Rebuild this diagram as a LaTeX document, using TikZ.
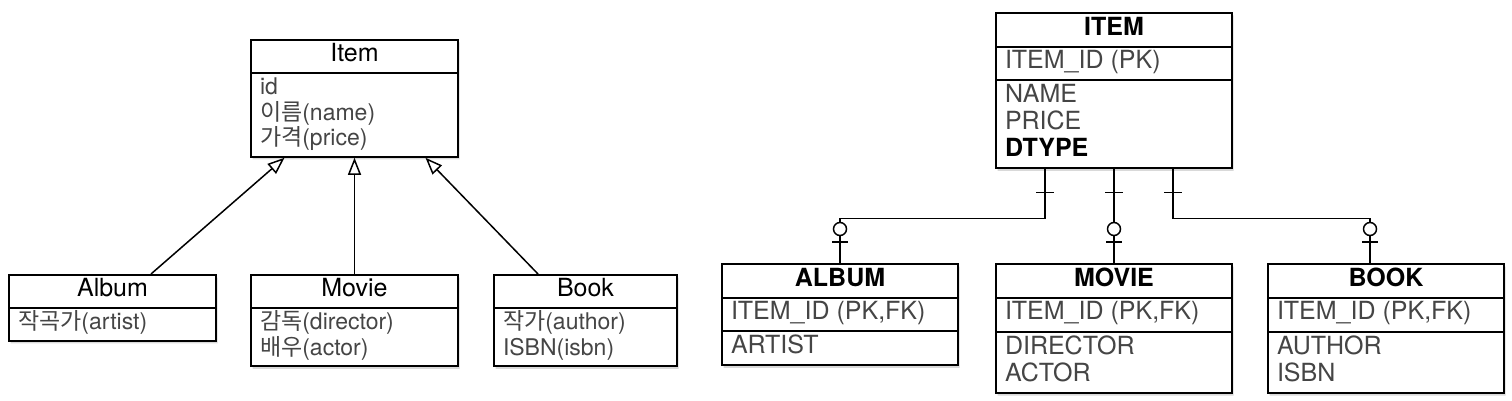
\documentclass[tikz,border=0pt]{standalone}
\usepackage{fontspec}
\setmainfont{TeX Gyre Heros}
\newfontfamily\kr{Noto Sans CJK KR}
\usepackage{tikz}
\usetikzlibrary{shapes}
\usetikzlibrary{arrows.meta}
\usetikzlibrary{shadows}
\usetikzlibrary{decorations.markings}
\definecolor{attrgray}{HTML}{454545}
\newcommand{\ko}[1]{\smash{\kr #1}}

\tikzset{
    box/.style={rectangle split, draw, line width=2pt, fill=white, anchor=north west, inner xsep=9pt, align=left, text=attrgray,
        drop shadow={shadow xshift=1.5pt, shadow yshift=-2.5pt, opacity=0.3}},
    cls/.style={box, rectangle split parts=2, rectangle split part align={center,left}, inner ysep=2.6pt, font=\fontsize{23}{25.5}\selectfont},
    tbl/.style={box, rectangle split parts=3, rectangle split part align={center,left,left}, inner ysep=2.8pt, font=\fontsize{25}{26}\selectfont},
    inherit/.style={line width=1.5pt, -{Triangle[open,length=17pt,width=13pt]}},
    erlink/.style={line width=1.5pt, postaction={decorate, decoration={markings,
        mark=at position 23pt with {\draw[line width=1.5pt] (0,-9pt) -- (0,9pt);},
        mark=at position -21pt with {\draw[line width=1.5pt] (0,-8pt) -- (0,8pt);},
        mark=at position -34pt with {\draw[line width=1.5pt,fill=white] (0,0) circle (6.5pt);}}}}
}

\begin{document}
\begin{tikzpicture}[x=1pt,y=1pt]
        \useasboundingbox (0,0) rectangle (1512,-401);

        \node[cls, minimum width=207pt] (itemC) at (250,-39)
            {\fontsize{25}{25.5}\selectfont\strut\textcolor{black}{Item}
             \nodepart{two}\strut id\\\strut\ko{이름}(name)\\\strut\ko{가격}(price)};
        \node[cls, minimum width=207pt] (albumC) at (8,-274)
            {\fontsize{25}{25.5}\selectfont\strut\textcolor{black}{Album}
             \nodepart{two}\strut\ko{작곡가}(artist)};
        \node[cls, minimum width=207pt] (movieC) at (250,-274)
            {\fontsize{25}{25.5}\selectfont\strut\textcolor{black}{Movie}
             \nodepart{two}\strut\ko{감독}(director)\\\strut\ko{배우}(actor)};
        \node[cls, minimum width=183pt] (bookC) at (493,-274)
            {\fontsize{25}{25.5}\selectfont\strut\textcolor{black}{Book}
             \nodepart{two}\strut\ko{작가}(author)\\\strut ISBN(isbn)};

        \draw[inherit] ([xshift=38.5pt]albumC.north) -- ([xshift=-70pt]itemC.south);
        \draw[inherit] (movieC.north) -- (itemC.south);
        \draw[inherit] ([xshift=-47.5pt]bookC.north) -- ([xshift=71pt]itemC.south);

        \node[tbl, minimum width=236pt] (itemT) at (995,-12)
            {\strut\textcolor{black}{\bfseries ITEM}
             \nodepart{two}\strut ITEM\_ID (PK)
             \nodepart{three}\strut NAME\\\strut PRICE\\\strut\textcolor{black}{\bfseries DTYPE}};
        \node[tbl, minimum width=236pt] (albumT) at (721,-263)
            {\strut\textcolor{black}{\bfseries ALBUM}
             \nodepart{two}\strut ITEM\_ID (PK,FK)
             \nodepart{three}\strut ARTIST};
        \node[tbl, minimum width=236pt] (movieT) at (995,-263)
            {\strut\textcolor{black}{\bfseries MOVIE}
             \nodepart{two}\strut ITEM\_ID (PK,FK)
             \nodepart{three}\strut DIRECTOR\\\strut ACTOR};
        \node[tbl, minimum width=236pt] (bookT) at (1267,-263)
            {\strut\textcolor{black}{\bfseries BOOK}
             \nodepart{two}\strut ITEM\_ID (PK,FK)
             \nodepart{three}\strut AUTHOR\\\strut ISBN};

        \draw[erlink] ([xshift=-69pt]itemT.south) -- ++(0,-49) -| (albumT.north);
        \draw[erlink] (itemT.south) -- (movieT.north);
        \draw[erlink] ([xshift=59pt]itemT.south) -- ++(0,-49) -| ([xshift=-16pt]bookT.north);
    \end{tikzpicture}
\end{document}
